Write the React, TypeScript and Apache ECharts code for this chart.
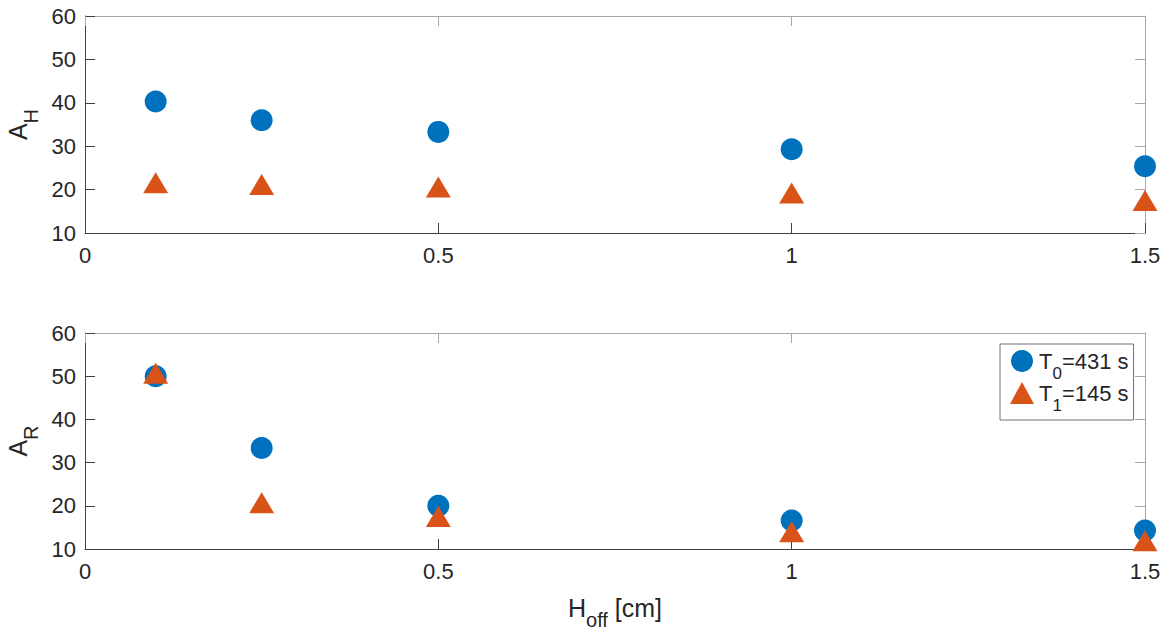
import React, { useEffect, useRef } from "react";
import * as echarts from "echarts";

const xValues = [0.1, 0.25, 0.5, 1, 1.5];
const AH_T0 = [40.3, 36.0, 33.3, 29.3, 25.4];
const AH_T1 = [21.6, 21.2, 20.6, 19.2, 17.5];
const AR_T0 = [50.0, 33.4, 20.0, 16.6, 14.3];
const AR_T1 = [50.7, 20.7, 17.5, 14.0, 11.9];
const seriesNames = ["T0=431 s", "T1=145 s"];
const yTicks = { min: 10, max: 60, interval: 10 };
const xTicks = { min: 0, max: 1.5, interval: 0.5 };

const FONT = "Liberation Sans";
const TXT = "#262626";
const DARK = "#404040";
const LIGHT = "#a8a8a8";
const BLUE = "#0072BD";
const ORANGE = "#D95319";

const labelRich = {
  b: { fontSize: 25, fontFamily: FONT, color: TXT, verticalAlign: "top", lineHeight: 25 },
  s: { fontSize: 20, fontFamily: FONT, color: TXT, verticalAlign: "top", lineHeight: 20, padding: [15, 0, 0, 0] },
};
const legendRich = {
  b: { fontSize: 22, fontFamily: FONT, color: TXT, verticalAlign: "top", lineHeight: 22 },
  s: { fontSize: 17, fontFamily: FONT, color: TXT, verticalAlign: "top", lineHeight: 17, padding: [15, 0, 0, 0] },
};

function pts(vals: number[]) {
  return xValues.map((x, i) => [x, vals[i]]);
}

export default function App() {
  const ref = useRef<HTMLDivElement>(null);
  useEffect(() => {
    if (!ref.current) return;
    const chart = echarts.init(ref.current, undefined, { renderer: "svg" });
    const grids = [
      { left: 85, width: 1060, top: 16, height: 217, outerBoundsMode: "none", containLabel: false },
      { left: 85, width: 1060, top: 333, height: 216, outerBoundsMode: "none", containLabel: false },
    ];
    const xAxes: any[] = [];
    const yAxes: any[] = [];
    [0, 1].forEach((g) => {
      xAxes.push({
        type: "value",
        gridIndex: g,
        position: "bottom",
        ...xTicks,
        axisLine: { show: true, onZero: false, lineStyle: { color: DARK, width: 1 } },
        axisTick: { show: true, inside: true, length: 10, lineStyle: { color: DARK } },
        axisLabel: { color: TXT, fontSize: 22, fontFamily: FONT, margin: 11 },
        splitLine: { show: false },
        ...(g === 1
          ? {
              name: "{b|H}{s|off}{b| [cm]}",
              nameLocation: "middle",
              nameGap: 46,
              nameTextStyle: { rich: labelRich },
            }
          : {}),
      });
      xAxes.push({
        type: "value",
        gridIndex: g,
        position: "top",
        ...xTicks,
        axisLine: { show: true, onZero: false, lineStyle: { color: LIGHT, width: 1 } },
        axisTick: { show: true, inside: true, length: 10, lineStyle: { color: LIGHT } },
        axisLabel: { show: false },
        splitLine: { show: false },
      });
      yAxes.push({
        type: "value",
        gridIndex: g,
        position: "left",
        ...yTicks,
        axisLine: { show: true, onZero: false, lineStyle: { color: DARK, width: 1 } },
        axisTick: { show: true, inside: true, length: 10, lineStyle: { color: DARK } },
        axisLabel: { color: TXT, fontSize: 22, fontFamily: FONT, margin: 9 },
        splitLine: { show: false },
        name: g === 0 ? "{b|A}{s|H}" : "{b|A}{s|R}",
        nameLocation: "middle",
        nameRotate: 90,
        nameGap: 48,
        nameTextStyle: { rich: labelRich },
      });
      yAxes.push({
        type: "value",
        gridIndex: g,
        position: "right",
        ...yTicks,
        axisLine: { show: true, onZero: false, lineStyle: { color: LIGHT, width: 1 } },
        axisTick: { show: true, inside: true, length: 10, lineStyle: { color: LIGHT } },
        axisLabel: { show: false },
        splitLine: { show: false },
      });
    });
    const mk = (name: string, data: number[], g: number, tri: boolean) => ({
      name,
      type: "scatter",
      xAxisIndex: g * 2,
      yAxisIndex: g * 2,
      data: pts(data),
      symbol: tri ? "triangle" : "circle",
      symbolSize: tri ? [25, 21] : 22,
      itemStyle: { color: tri ? ORANGE : BLUE, opacity: 1 },
      z: tri ? 3 : 2,
    });
    chart.setOption({
      animation: false,
      grid: grids,
      xAxis: xAxes,
      yAxis: yAxes,
      legend: {
        orient: "vertical",
        left: 1000,
        top: 344,
        data: seriesNames,
        padding: [6, 5, 6, 10],
        itemGap: 0,
        itemWidth: 24,
        itemHeight: 22,
        backgroundColor: "#fff",
        borderColor: "#707070",
        borderWidth: 1,
        borderRadius: 0,
        formatter: (n: string) =>
          n === seriesNames[0] ? "{b|T}{s|0}{b|=431 s}" : "{b|T}{s|1}{b|=145 s}",
        textStyle: { rich: legendRich },
      },
      series: [
        mk(seriesNames[0], AH_T0, 0, false),
        mk(seriesNames[1], AH_T1, 0, true),
        mk(seriesNames[0], AR_T0, 1, false),
        mk(seriesNames[1], AR_T1, 1, true),
      ],
    });
    return () => chart.dispose();
  }, []);
  return (
    <div
      ref={ref}
      style={{ position: "fixed", left: 0, top: 0, width: 1167, height: 630, background: "#fff" }}
    />
  );
}
